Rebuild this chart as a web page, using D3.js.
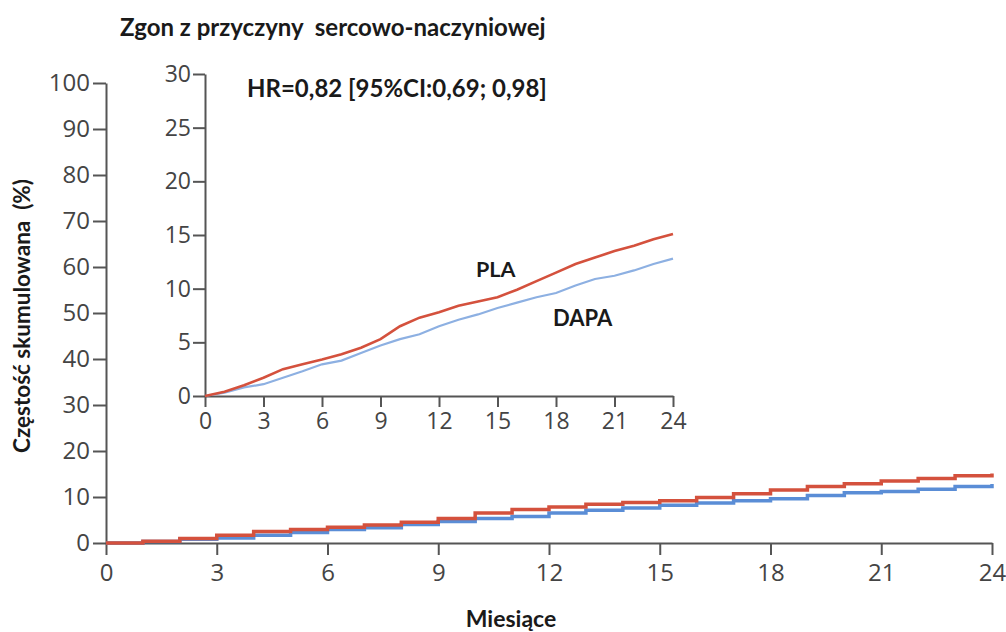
<!DOCTYPE html>
<html>
<head>
<meta charset="utf-8">
<script src="https://cdn.jsdelivr.net/npm/d3@7"></script>
<style>
body{margin:0;background:#fff}
text{white-space:pre}
</style>
</head>
<body>
<svg width="1006" height="632"></svg>
<script>
// months since randomisation and cumulative incidence (%)
var months = [0,1,2,3,4,5,6,7,8,9,10,11,12,13,14,15,16,17,18,19,20,21,22,23,24]
var pla  = [0,0.4,1.0,1.7,2.5,2.95,3.4,3.9,4.5,5.3,6.5,7.3,7.8,8.4,8.8,9.2,9.9,10.7,11.5,12.3,12.9,13.5,14.0,14.6,15.1]
var dapa = [0,0.3,0.8,1.1,1.7,2.3,2.95,3.3,4.0,4.7,5.3,5.75,6.5,7.1,7.6,8.2,8.7,9.2,9.6,10.3,10.9,11.2,11.7,12.3,12.8]

var ticksX = [0,3,6,9,12,15,18,21,24]
var ticksMainY = [0,10,20,30,40,50,60,70,80,90,100]
var ticksInsetY = [0,5,10,15,20,25,30]

var title = "Zgon z przyczyny  sercowo-naczyniowej"
var hrText = "HR=0,82 [95%CI:0,69; 0,98]"
var yTitle = "Częstość skumulowana  (%)"
var xTitle = "Miesiące"
var seriesNames = ["PLA","DAPA"]

var red = "#d4513d"
var blue = "#5a8dd6"
var lightBlue = "#8db0e2"
var axisColor = "#555"
var tickFont = "'Open Sans', sans-serif"
var boldFont = "Lato, sans-serif"

var svg = d3.select("svg")

var plaData = months.map(function(m,i){return {x:m, y:pla[i]}})
var dapaData = months.map(function(m,i){return {x:m, y:dapa[i]}})

var styleAxis = function(g, size){
    g.select(".domain").attr("stroke",axisColor).attr("stroke-width",2)
    g.selectAll(".tick line").attr("stroke",axisColor).attr("stroke-width",2)
    g.selectAll(".tick text").attr("fill","#444")
        .style("font-family",tickFont).style("font-size",size+"px")
}

// main chart
var xMain = d3.scaleLinear().domain([0,24]).range([106,992])
var yMain = d3.scaleLinear().domain([0,100]).range([543,83])

var gxMain = svg.append("g").attr("transform","translate(0,"+yMain(0)+")")
    .call(d3.axisBottom(xMain).tickValues(ticksX).tickSize(12).tickSizeOuter(0).tickPadding(9))
styleAxis(gxMain,24)
var gyMain = svg.append("g").attr("transform","translate("+xMain(0)+",0)")
    .call(d3.axisLeft(yMain).tickValues(ticksMainY).tickSize(13).tickSizeOuter(0).tickPadding(3))
styleAxis(gyMain,24)

var lineMain = d3.line()
    .x(function(d){return xMain(d.x)})
    .y(function(d){return yMain(d.y)})
    .curve(d3.curveStepAfter)

svg.append("path").datum(dapaData).attr("d",lineMain)
    .attr("fill","none").attr("stroke",blue).attr("stroke-width",3.5)
svg.append("path").datum(plaData).attr("d",lineMain)
    .attr("fill","none").attr("stroke",red).attr("stroke-width",3.5)

// inset
var xIn = d3.scaleLinear().domain([0,24]).range([205,673])
var yIn = d3.scaleLinear().domain([0,30]).range([396,74])

var gxIn = svg.append("g").attr("transform","translate(0,"+yIn(0)+")")
    .call(d3.axisBottom(xIn).tickValues(ticksX).tickSize(11).tickSizeOuter(0).tickPadding(6))
styleAxis(gxIn,23)
var gyIn = svg.append("g").attr("transform","translate("+xIn(0)+",0)")
    .call(d3.axisLeft(yIn).tickValues(ticksInsetY).tickSize(12).tickSizeOuter(0).tickPadding(2))
styleAxis(gyIn,23)

var lineIn = d3.line()
    .x(function(d){return xIn(d.x)})
    .y(function(d){return yIn(d.y)})

svg.append("path").datum(dapaData).attr("d",lineIn)
    .attr("fill","none").attr("stroke",lightBlue).attr("stroke-width",2.2)
svg.append("path").datum(plaData).attr("d",lineIn)
    .attr("fill","none").attr("stroke",red).attr("stroke-width",2.6)

// texts
var label = function(str,x,y,size,anchor){
    return svg.append("text").text(str).attr("x",x).attr("y",y)
        .attr("text-anchor",anchor||"start")
        .style("font-family",boldFont).style("font-weight","bold")
        .style("font-size",size+"px").attr("fill","#1a1a1a")
}
label(title,120,36,24)
label(hrText,247,97,24)
label(seriesNames[0],476,277,21.5)
label(seriesNames[1],553,326,22)
label(xTitle,511,627,23,"middle")
label(yTitle,0,0,22.5,"middle")
    .attr("transform","translate(30,316) rotate(-90)")
</script>
</body>
</html>
